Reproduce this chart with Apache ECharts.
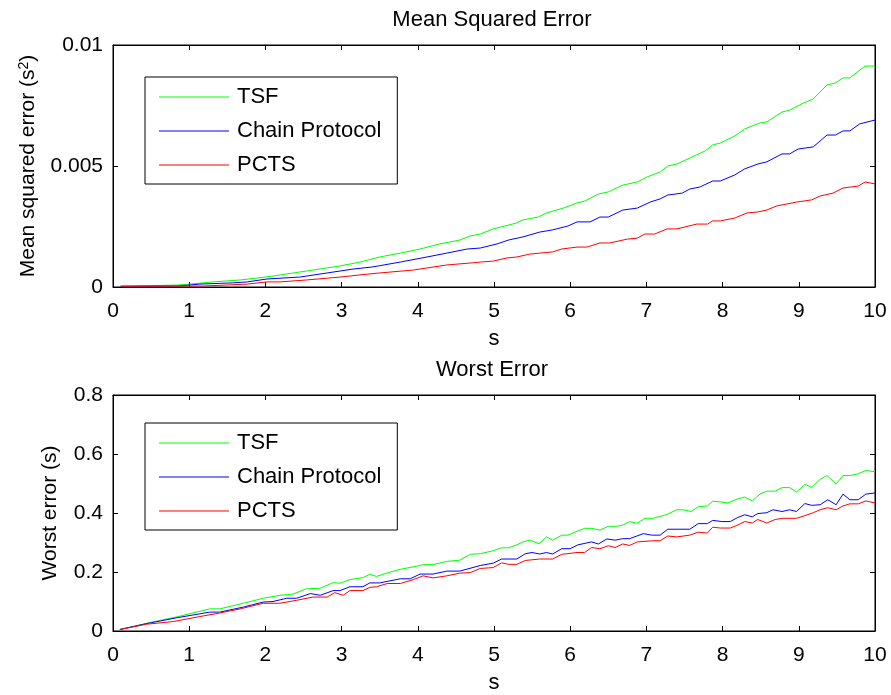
<!DOCTYPE html>
<html>
<head>
<meta charset="utf-8">
<title>Mean Squared Error / Worst Error</title>
<script src="https://cdn.jsdelivr.net/npm/echarts@6/dist/echarts.min.js"></script>
<style>
  html, body { margin: 0; padding: 0; background: #ffffff; }
  #chart { width: 891px; height: 695px; }
</style>
</head>
<body>
<div id="chart"></div>
<script>
  // [s, value] pairs
  const seriesNames = ['TSF', 'Chain Protocol', 'PCTS'];
  const seriesColors = ['#00ff00', '#0000ff', '#ff0000'];

  const mseTsf = [
    [0.1, 0.00003], [0.84, 0.00008], [1.01, 0.00012], [1.31, 0.00021], [1.67, 0.00029],
    [1.89, 0.00037], [2.1, 0.00045], [2.28, 0.00054], [2.54, 0.00066], [2.81, 0.00079],
    [2.98, 0.00087], [3.24, 0.00103], [3.5, 0.00124], [3.77, 0.0014], [4.03, 0.00157],
    [4.29, 0.00178], [4.55, 0.00194], [4.69, 0.00211], [4.82, 0.00219], [4.99, 0.0024],
    [5.29, 0.00264], [5.38, 0.00277], [5.58, 0.00289], [5.69, 0.00306], [5.91, 0.00326],
    [6.09, 0.00347], [6.19, 0.00355], [6.37, 0.00384], [6.5, 0.00393], [6.69, 0.00421],
    [6.88, 0.00434], [7.01, 0.00455], [7.18, 0.00475], [7.28, 0.005], [7.4, 0.00508],
    [7.57, 0.00533], [7.77, 0.00562], [7.87, 0.00587], [7.97, 0.00595], [8.16, 0.00624],
    [8.29, 0.00653], [8.49, 0.00678], [8.58, 0.00682], [8.78, 0.00723], [8.88, 0.00731],
    [9.06, 0.0076], [9.19, 0.00777], [9.37, 0.00835], [9.48, 0.00843], [9.58, 0.00864],
    [9.67, 0.00864], [9.87, 0.00913], [10, 0.00913]
  ];
  const mseChain = [
    [0.1, 0.00003], [0.85, 0.00004], [1.14, 0.00012], [1.57, 0.00017], [1.76, 0.00021],
    [2.02, 0.00033], [2.45, 0.00041], [2.81, 0.00058], [3.15, 0.00074], [3.41, 0.00083],
    [3.77, 0.00103], [4.12, 0.00124], [4.38, 0.0014], [4.65, 0.00157], [4.82, 0.00161],
    [5.04, 0.00178], [5.19, 0.00194], [5.38, 0.00207], [5.6, 0.00227], [5.77, 0.00236],
    [5.97, 0.00252], [6.09, 0.00269], [6.26, 0.00269], [6.39, 0.00289], [6.5, 0.00289],
    [6.69, 0.00318], [6.88, 0.00326], [7.05, 0.00351], [7.18, 0.00364], [7.28, 0.0038],
    [7.47, 0.00388], [7.57, 0.00405], [7.7, 0.00413], [7.87, 0.00438], [7.97, 0.00438],
    [8.16, 0.00463], [8.29, 0.00488], [8.46, 0.00508], [8.58, 0.00517], [8.78, 0.0055],
    [8.88, 0.0055], [8.99, 0.0057], [9.19, 0.00579], [9.37, 0.00628], [9.48, 0.00628],
    [9.58, 0.00645], [9.67, 0.00645], [9.8, 0.00674], [10, 0.0069]
  ];
  const msePcts = [
    [0.1, 0.00003], [1.18, 0.00004], [1.76, 0.00012], [2.02, 0.00021], [2.19, 0.00021],
    [2.54, 0.00029], [2.98, 0.00041], [3.24, 0.0005], [3.5, 0.00058], [3.94, 0.0007],
    [4.38, 0.00091], [4.72, 0.001], [4.82, 0.00103], [4.99, 0.00107], [5.17, 0.0012],
    [5.3, 0.00124], [5.47, 0.00136], [5.6, 0.0014], [5.77, 0.00145], [5.89, 0.00157],
    [6.09, 0.00165], [6.22, 0.00165], [6.39, 0.00182], [6.52, 0.00182], [6.75, 0.00198],
    [6.88, 0.00202], [6.98, 0.00219], [7.11, 0.00219], [7.27, 0.0024], [7.4, 0.0024],
    [7.66, 0.0026], [7.8, 0.0026], [7.87, 0.00273], [7.97, 0.00273], [8.16, 0.00285],
    [8.32, 0.00306], [8.46, 0.0031], [8.58, 0.00318], [8.71, 0.00335], [8.91, 0.00347],
    [8.97, 0.00351], [9.17, 0.0036], [9.28, 0.00376], [9.45, 0.00388], [9.58, 0.00409],
    [9.78, 0.00417], [9.87, 0.00434], [10, 0.00426]
  ];

  const worstTsf = [
    [0.09, 0.005], [0.49, 0.029], [0.84, 0.048], [1.27, 0.075], [1.4, 0.075],
    [1.71, 0.094], [1.97, 0.111], [2.19, 0.121], [2.36, 0.125], [2.54, 0.143],
    [2.72, 0.145], [2.89, 0.164], [2.98, 0.162], [3.11, 0.174], [3.28, 0.181],
    [3.37, 0.192], [3.46, 0.185], [3.6, 0.197], [3.77, 0.209], [3.99, 0.22],
    [4.07, 0.225], [4.2, 0.225], [4.38, 0.236], [4.55, 0.24], [4.69, 0.26],
    [4.82, 0.262], [4.99, 0.272], [5.1, 0.282], [5.19, 0.282], [5.3, 0.292],
    [5.38, 0.302], [5.47, 0.308], [5.59, 0.296], [5.69, 0.319], [5.77, 0.308],
    [5.89, 0.325], [5.97, 0.325], [6.09, 0.338], [6.19, 0.348], [6.28, 0.348],
    [6.39, 0.342], [6.5, 0.355], [6.61, 0.355], [6.69, 0.359], [6.78, 0.371],
    [6.88, 0.365], [6.98, 0.382], [7.09, 0.382], [7.27, 0.395], [7.4, 0.411],
    [7.48, 0.411], [7.59, 0.405], [7.68, 0.421], [7.8, 0.424], [7.87, 0.44],
    [7.99, 0.437], [8.07, 0.434], [8.19, 0.447], [8.29, 0.454], [8.39, 0.441],
    [8.49, 0.464], [8.58, 0.474], [8.69, 0.474], [8.78, 0.486], [8.88, 0.486],
    [8.97, 0.471], [9.08, 0.497], [9.17, 0.487], [9.28, 0.514], [9.37, 0.527],
    [9.49, 0.498], [9.58, 0.527], [9.67, 0.527], [9.78, 0.533], [9.88, 0.544],
    [10, 0.54]
  ];
  const worstChain = [
    [0.09, 0.005], [0.44, 0.025], [0.84, 0.045], [1.27, 0.064], [1.4, 0.064],
    [1.71, 0.081], [1.97, 0.098], [2.1, 0.1], [2.28, 0.111], [2.41, 0.111],
    [2.59, 0.127], [2.72, 0.121], [2.89, 0.137], [2.98, 0.137], [3.11, 0.15],
    [3.28, 0.15], [3.37, 0.163], [3.5, 0.163], [3.77, 0.177], [3.9, 0.177],
    [4.03, 0.193], [4.2, 0.193], [4.38, 0.203], [4.55, 0.203], [4.82, 0.222],
    [4.99, 0.23], [5.1, 0.244], [5.3, 0.244], [5.41, 0.262], [5.5, 0.266],
    [5.6, 0.261], [5.69, 0.266], [5.77, 0.261], [5.89, 0.279], [6.0, 0.279],
    [6.1, 0.292], [6.28, 0.302], [6.37, 0.295], [6.48, 0.312], [6.59, 0.308],
    [6.69, 0.313], [6.78, 0.313], [6.96, 0.33], [7.07, 0.325], [7.18, 0.325],
    [7.28, 0.345], [7.57, 0.345], [7.68, 0.364], [7.8, 0.364], [7.87, 0.375],
    [7.99, 0.371], [8.1, 0.371], [8.2, 0.385], [8.29, 0.394], [8.39, 0.387],
    [8.46, 0.398], [8.58, 0.401], [8.66, 0.411], [8.78, 0.405], [8.88, 0.411],
    [8.97, 0.405], [9.08, 0.432], [9.17, 0.426], [9.28, 0.428], [9.38, 0.445],
    [9.49, 0.428], [9.58, 0.464], [9.67, 0.445], [9.78, 0.445], [9.88, 0.464],
    [10, 0.468]
  ];
  const worstPcts = [
    [0.09, 0.005], [0.44, 0.023], [0.79, 0.032], [1.14, 0.049], [1.38, 0.06],
    [1.67, 0.075], [1.97, 0.094], [2.19, 0.094], [2.41, 0.104], [2.62, 0.115],
    [2.81, 0.115], [2.91, 0.13], [3.02, 0.121], [3.11, 0.137], [3.28, 0.137],
    [3.37, 0.148], [3.46, 0.15], [3.6, 0.161], [3.77, 0.161], [3.94, 0.174],
    [4.07, 0.187], [4.2, 0.18], [4.38, 0.187], [4.55, 0.196], [4.69, 0.198],
    [4.82, 0.212], [4.99, 0.215], [5.1, 0.231], [5.19, 0.226], [5.3, 0.226],
    [5.41, 0.239], [5.6, 0.244], [5.77, 0.244], [5.89, 0.26], [6.09, 0.266],
    [6.19, 0.266], [6.28, 0.283], [6.39, 0.279], [6.5, 0.289], [6.59, 0.283],
    [6.69, 0.295], [6.78, 0.29], [6.88, 0.302], [7.09, 0.306], [7.18, 0.306],
    [7.28, 0.322], [7.4, 0.319], [7.57, 0.325], [7.68, 0.335], [7.8, 0.332],
    [7.87, 0.352], [7.97, 0.349], [8.1, 0.349], [8.19, 0.358], [8.29, 0.371],
    [8.39, 0.366], [8.46, 0.378], [8.58, 0.366], [8.69, 0.378], [8.78, 0.382],
    [8.97, 0.382], [9.08, 0.391], [9.19, 0.401], [9.28, 0.411], [9.38, 0.418],
    [9.49, 0.411], [9.58, 0.424], [9.67, 0.431], [9.78, 0.431], [9.88, 0.441],
    [10, 0.434]
  ];

  const xTicks = { min: 0, max: 10, interval: 1 };
  const mseTicks = { min: 0, max: 0.01, interval: 0.005 };
  const worstTicks = { min: 0, max: 0.8, interval: 0.2 };

  const fontFamily = '"Liberation Sans", Arial, sans-serif';

  const boxAxis = (ticks, extra) =>
    Object.assign(
      {
        type: 'value',
        min: ticks.min,
        max: ticks.max,
        interval: ticks.interval,
        splitLine: { show: false },
        axisLine: { show: true, onZero: false, lineStyle: { color: '#000', width: 1 } },
        axisTick: { show: true, inside: true, length: 5, lineStyle: { color: '#000' } },
        axisLabel: { show: false },
      },
      extra
    );

  const tickLabel = (margin) => ({
    show: true,
    color: '#000',
    fontSize: 21,
    fontFamily: fontFamily,
    margin: margin,
    showMinLabel: true,
    showMaxLabel: true,
  });

  const legendFor = (top) => ({
    orient: 'vertical',
    left: 145,
    top: top,
    data: seriesNames,
    backgroundColor: '#fff',
    borderColor: '#000',
    borderWidth: 1,
    padding: [8, 16, 7, 14],
    icon: 'rect',
    itemWidth: 70,
    itemHeight: 1,
    itemGap: 10,
    selectedMode: false,
    textStyle: {
      color: '#000',
      fontSize: 22,
      fontFamily: fontFamily,
      lineHeight: 24,
      padding: [0, 0, 0, 3],
    },
  });

  const lineSeries = (name, idx, data, axisIdx) => ({
    name: name,
    type: 'line',
    data: data,
    xAxisIndex: axisIdx,
    yAxisIndex: axisIdx,
    symbol: 'none',
    animation: false,
    color: seriesColors[idx],
    lineStyle: { color: seriesColors[idx], width: 1 },
  });

  const myChart = echarts.init(document.getElementById('chart'), null, { renderer: 'canvas' });

  myChart.setOption({
    backgroundColor: '#ffffff',
    animation: false,
    title: [
      {
        text: 'Mean Squared Error',
        left: 492,
        top: 9,
        textAlign: 'center',
        padding: 0,
        textStyle: { color: '#000', fontSize: 22, fontWeight: 'normal', fontFamily: fontFamily },
      },
      {
        text: 'Worst Error',
        left: 492,
        top: 359,
        textAlign: 'center',
        padding: 0,
        textStyle: { color: '#000', fontSize: 22, fontWeight: 'normal', fontFamily: fontFamily },
      },
    ],
    legend: [legendFor(77), legendFor(423)],
    grid: [
      { left: 113, top: 45, width: 762, height: 242, show: true, borderColor: '#000', borderWidth: 1, backgroundColor: '#fff' },
      { left: 113, top: 395, width: 762, height: 242, show: true, borderColor: '#000', borderWidth: 1, backgroundColor: '#fff' },
    ],
    xAxis: [
      boxAxis(xTicks, {
        gridIndex: 0,
        position: 'bottom',
        axisLabel: tickLabel(14),
        name: 's',
        nameLocation: 'middle',
        nameGap: 41,
        nameTextStyle: { color: '#000', fontSize: 22, fontFamily: fontFamily },
      }),
      boxAxis(xTicks, { gridIndex: 0, position: 'top' }),
      boxAxis(xTicks, {
        gridIndex: 1,
        position: 'bottom',
        axisLabel: tickLabel(14),
        name: 's',
        nameLocation: 'middle',
        nameGap: 41,
        nameTextStyle: { color: '#000', fontSize: 22, fontFamily: fontFamily },
      }),
      boxAxis(xTicks, { gridIndex: 1, position: 'top' }),
    ],
    yAxis: [
      boxAxis(mseTicks, {
        gridIndex: 0,
        position: 'left',
        axisLabel: tickLabel(10),
        name: 'Mean squared error (s{sup|2})',
        nameLocation: 'middle',
        nameGap: 74,
        nameTextStyle: {
          color: '#000',
          fontSize: 21,
          fontFamily: fontFamily,
          rich: {
            sup: { fontSize: 14, fontFamily: fontFamily, color: '#000', verticalAlign: 'top', padding: [0, 0, 8, 0] },
          },
        },
      }),
      boxAxis(mseTicks, { gridIndex: 0, position: 'right' }),
      boxAxis(worstTicks, {
        gridIndex: 1,
        position: 'left',
        axisLabel: tickLabel(10),
        name: 'Worst error (s)',
        nameLocation: 'middle',
        nameGap: 52,
        nameTextStyle: { color: '#000', fontSize: 21, fontFamily: fontFamily },
      }),
      boxAxis(worstTicks, { gridIndex: 1, position: 'right' }),
    ],
    series: [
      lineSeries(seriesNames[0], 0, mseTsf, 0),
      lineSeries(seriesNames[1], 1, mseChain, 0),
      lineSeries(seriesNames[2], 2, msePcts, 0),
      lineSeries(seriesNames[0], 0, worstTsf, 2),
      lineSeries(seriesNames[1], 1, worstChain, 2),
      lineSeries(seriesNames[2], 2, worstPcts, 2),
    ],
  });

  window.addEventListener('resize', function () {
    myChart && myChart.resize();
  });
</script>
</body>
</html>
